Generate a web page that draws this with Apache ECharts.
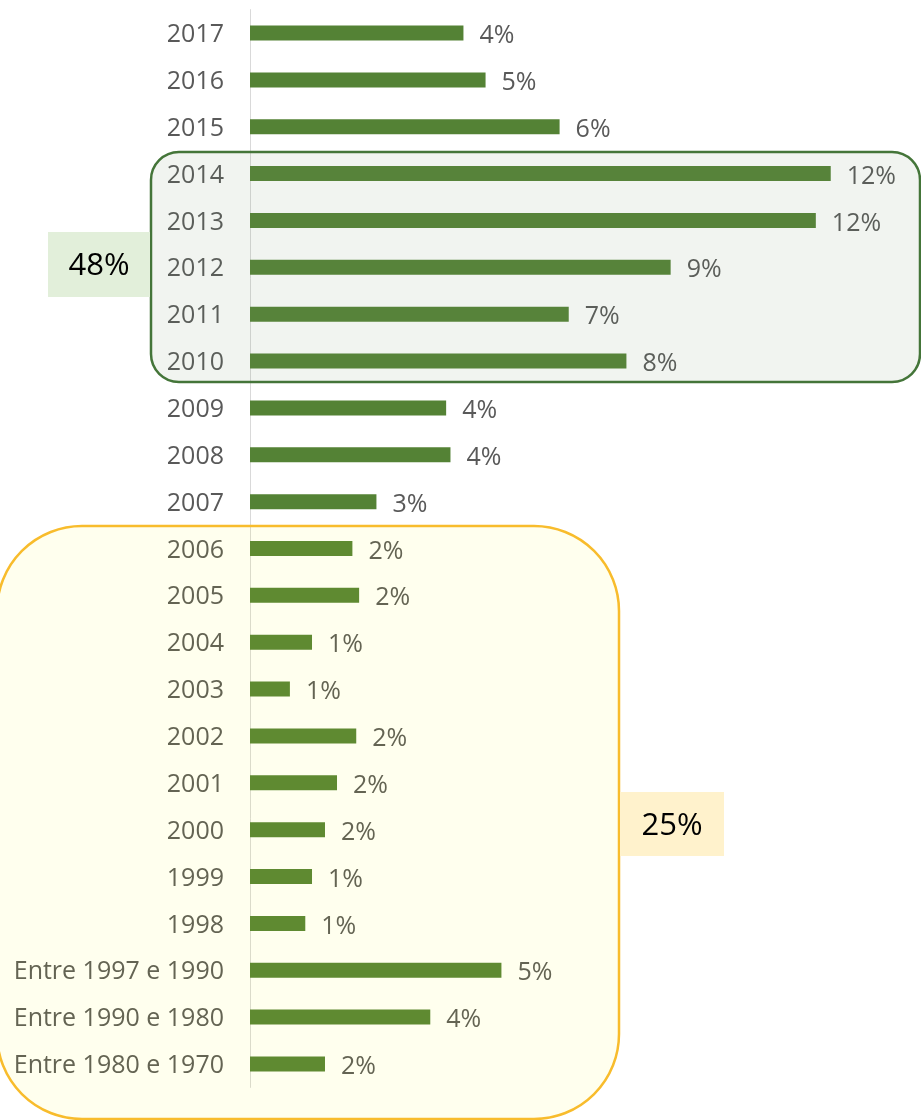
<!DOCTYPE html>
<html>
<head>
<meta charset="utf-8">
<script src="https://cdn.jsdelivr.net/npm/echarts@6/dist/echarts.min.js"></script>
<style>
  html, body { margin: 0; padding: 0; background: #fff; }
  #chart { width: 921px; height: 1120px; }
</style>
</head>
<body>
<div id="chart"></div>
<script>
// categorias (de cima para baixo)
const categories = [
  '2017', '2016', '2015', '2014', '2013', '2012', '2011', '2010', '2009', '2008',
  '2007', '2006', '2005', '2004', '2003', '2002', '2001', '2000', '1999', '1998',
  'Entre 1997 e 1990', 'Entre 1990 e 1980', 'Entre 1980 e 1970'
];
// percentagens estimadas a partir do comprimento das barras
const shares = [
  4.44, 4.90, 6.44, 12.08, 11.77, 8.75, 6.63, 7.83, 4.08, 4.17,
  2.63, 2.13, 2.27, 1.29, 0.83, 2.21, 1.81, 1.56, 1.29, 1.15,
  5.23, 3.75, 1.56
];
// totais destacados
const groupTotals = ['48%', '25%'];

const font = 'Open Sans';
const chart = echarts.init(document.getElementById('chart'));

chart.setOption({
  animation: false,
  grid: { left: 250, right: 22, top: 9.6, bottom: 32.6 },
  xAxis: {
    type: 'value',
    min: 0,
    max: 13.5,
    show: false
  },
  yAxis: {
    type: 'category',
    data: categories,
    inverse: true,
    axisLine: { lineStyle: { color: '#d9d9d9', width: 1 } },
    axisTick: { show: false },
    axisLabel: {
      margin: 26,
      formatter: v => '{a|' + v + '}',
      rich: {
        a: { color: '#595959', fontFamily: font, fontSize: 25, padding: [4, 0, 0, 0] }
      }
    }
  },
  series: [{
    type: 'bar',
    data: shares,
    barWidth: 15,
    itemStyle: { color: '#548235' },
    label: {
      show: true,
      position: 'right',
      distance: 16,
      offset: [0, 3],
      color: '#595959',
      fontFamily: font,
      fontSize: 25,
      formatter: p => Math.round(p.value) + '%'
    }
  }],
  graphic: [
    // caixa 2010-2014
    {
      type: 'rect', z: 100,
      shape: { x: 151, y: 152, width: 769, height: 230, r: 28 },
      style: { fill: 'rgba(120,145,110,0.1)', stroke: '#447539', lineWidth: 2.5 }
    },
    {
      type: 'rect', z: 101,
      shape: { x: 48, y: 232, width: 102, height: 65 },
      style: { fill: '#e2efda' }
    },
    {
      type: 'text', z: 102, x: 99, y: 266,
      style: { text: groupTotals[0], fill: '#000', font: '31px "Open Sans"', align: 'center', verticalAlign: 'middle' }
    },
    // caixa 2006 e anteriores
    {
      type: 'rect', z: 100,
      shape: { x: -3, y: 526, width: 622, height: 593, r: 85 },
      style: { fill: 'rgba(255,255,0,0.067)', stroke: '#f8bc2c', lineWidth: 2.5 }
    },
    {
      type: 'rect', z: 101,
      shape: { x: 620, y: 792, width: 104, height: 64 },
      style: { fill: '#fff2cc' }
    },
    {
      type: 'text', z: 102, x: 672, y: 826,
      style: { text: groupTotals[1], fill: '#000', font: '31px "Open Sans"', align: 'center', verticalAlign: 'middle' }
    }
  ]
});
</script>
</body>
</html>
